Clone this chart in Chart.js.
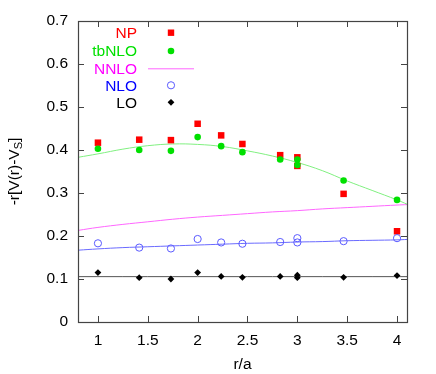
<!DOCTYPE html>
<html>
<head>
<meta charset="utf-8">
<script src="https://cdn.jsdelivr.net/npm/chart.js@4.4.1/dist/chart.umd.min.js"></script>
<style>
  html, body { margin: 0; padding: 0; background: #fff; }
  #wrap { width: 436px; height: 374px; }
</style>
</head>
<body>
<div id="wrap"><canvas id="graphCanvas" width="436" height="374"></canvas></div>
<script>
// r/a of the lattice points (two different points at r/a = 3)
var rVals = [1, 1.414, 1.732, 2, 2.236, 2.449, 2.828, 3, 3, 3.464, 4];
var npVals = [0.417, 0.424, 0.423, 0.461, 0.434, 0.414, 0.388, 0.383, 0.363, 0.298, 0.211];
var tbnloVals = [0.403, 0.400, 0.398, 0.430, 0.409, 0.395, 0.378, 0.378, 0.365, 0.329, 0.284];
var nloVals = [0.183, 0.173, 0.171, 0.193, 0.185, 0.182, 0.186, 0.195, 0.185, 0.188, 0.195];
var loVals = [0.115, 0.103, 0.100, 0.115, 0.106, 0.104, 0.106, 0.109, 0.103, 0.104, 0.108];

// curves
var curveX = [0.8, 1.0, 1.25, 1.5, 1.75, 2.0, 2.25, 2.5, 2.75, 3.0, 3.25, 3.5, 3.75, 4.0, 4.1];
var tbnloCurve = [0.383, 0.391, 0.402, 0.410, 0.414, 0.413, 0.408, 0.398, 0.386, 0.371, 0.352, 0.328, 0.306, 0.284, 0.274];
var nnloCurve = [0.213, 0.220, 0.227, 0.233, 0.239, 0.244, 0.248, 0.252, 0.256, 0.259, 0.263, 0.266, 0.269, 0.272, 0.273];
var nloCurve = [0.167, 0.170, 0.173, 0.175, 0.177, 0.179, 0.181, 0.183, 0.184, 0.186, 0.187, 0.189, 0.190, 0.191, 0.192];
var loCurve = [0.1055, 0.1055, 0.1055, 0.1055, 0.1055, 0.1055, 0.1055, 0.1055, 0.1055, 0.1055, 0.1055, 0.1055, 0.1055, 0.1055, 0.1055];

var xTicks = [1, 1.5, 2, 2.5, 3, 3.5, 4];
var yTicks = [0, 0.1, 0.2, 0.3, 0.4, 0.5, 0.6, 0.7];
var legendNames = ["NP", "tbNLO", "NNLO", "NLO", "LO"];

var FONT = "'Liberation Sans', Arial, sans-serif";
var FS = 15.5;
var frameColor = "#444";

function pts(xs, ys) {
  return xs.map(function(x, i){ return {x: x, y: ys[i]}; });
}

var red = "#ff0000", green = "#00e000", greenLine = "#80f080",
    magenta = "#ff66ff", magentaText = "#ff00ff", blue = "#0000ff", blueMark = "#5a5aff", blueLine = "#6a6aff",
    black = "#000000", grayLine = "#555555";

var datasets = [
  {label: "LOcurve", data: pts(curveX, loCurve), showLine: true, borderColor: grayLine, borderWidth: 1, pointRadius: 0, order: 9},
  {label: "NLOcurve", data: pts(curveX, nloCurve), showLine: true, borderColor: blueLine, borderWidth: 1, pointRadius: 0, tension: 0.4, order: 8},
  {label: "NNLO", data: pts(curveX, nnloCurve), showLine: true, borderColor: magenta, borderWidth: 1, pointRadius: 0, tension: 0.4, order: 7},
  {label: "tbNLOcurve", data: pts(curveX, tbnloCurve), showLine: true, borderColor: greenLine, borderWidth: 1, pointRadius: 0, tension: 0.4, order: 6},
  {label: "NP", data: pts(rVals, npVals), pointStyle: "rect", pointRadius: 4.6, backgroundColor: red, borderColor: red, borderWidth: 0, order: 5},
  {label: "tbNLO", data: pts(rVals, tbnloVals), pointStyle: "circle", pointRadius: 3.3, backgroundColor: green, borderColor: green, borderWidth: 0, order: 4},
  {label: "NLO", data: pts(rVals, nloVals), pointStyle: "circle", pointRadius: 3.6, backgroundColor: "rgba(0,0,0,0)", borderColor: blueMark, borderWidth: 1, order: 3},
  {label: "LO", data: pts(rVals, loVals), pointStyle: "rectRot", pointRadius: 3.4, backgroundColor: black, borderColor: black, borderWidth: 0, order: 2}
];

// gnuplot style frame, inward ticks on all sides, y title, key
var gnuplotDeco = {
  id: "gnuplotDeco",
  afterDatasetsDraw: function(chart) {
    var ctx = chart.ctx, a = chart.chartArea;
    var xs = chart.scales.x, ys = chart.scales.y;
    ctx.save();
    ctx.strokeStyle = frameColor;
    ctx.lineWidth = 1;
    ctx.beginPath();
    xTicks.forEach(function(v){
      var px = Math.round(xs.getPixelForValue(v)) + 0.5;
      ctx.moveTo(px, a.bottom); ctx.lineTo(px, a.bottom - 6);
      ctx.moveTo(px, a.top); ctx.lineTo(px, a.top + 6);
    });
    yTicks.forEach(function(v){
      var py = Math.round(ys.getPixelForValue(v)) + 0.5;
      ctx.moveTo(a.left, py); ctx.lineTo(a.left + 6, py);
      ctx.moveTo(a.right, py); ctx.lineTo(a.right - 6, py);
    });
    ctx.stroke();
    ctx.lineWidth = 1.2;
    ctx.strokeRect(Math.round(a.left) + 0.5, Math.round(a.top) + 0.5, Math.round(a.right - a.left), Math.round(a.bottom - a.top));

    // y title with subscript
    ctx.translate(15, (a.top + a.bottom) / 2);
    ctx.rotate(-Math.PI / 2);
    ctx.fillStyle = "#000";
    ctx.textBaseline = "middle";
    var main = "-r[V(r)-V", sub = "S", end = "]";
    ctx.font = FS + "px " + FONT;
    var w1 = ctx.measureText(main).width, w3 = ctx.measureText(end).width;
    ctx.font = "11px " + FONT;
    var w2 = ctx.measureText(sub).width;
    var x0 = -(w1 + w2 + w3) / 2;
    ctx.font = FS + "px " + FONT;
    ctx.textAlign = "left";
    ctx.fillText(main, x0, 0);
    ctx.font = "11px " + FONT;
    ctx.fillText(sub, x0 + w1, 4);
    ctx.font = FS + "px " + FONT;
    ctx.fillText(end, x0 + w1 + w2, 0);
    ctx.restore();

    // key
    ctx.save();
    var rows = [32.7, 51, 68.3, 85.3, 102.3];
    var colors = [red, green, magentaText, blue, black];
    ctx.font = FS + "px " + FONT;
    ctx.textAlign = "right";
    ctx.textBaseline = "middle";
    legendNames.forEach(function(name, i){
      ctx.fillStyle = colors[i];
      ctx.fillText(name, 137, rows[i] + 1);
    });
    var sx = 171;
    ctx.fillStyle = red; ctx.fillRect(sx - 3.2, rows[0] - 3.2, 6.4, 6.4);
    ctx.fillStyle = green; ctx.beginPath(); ctx.arc(sx, rows[1], 3.3, 0, Math.PI * 2); ctx.fill();
    ctx.strokeStyle = magenta; ctx.lineWidth = 1; ctx.beginPath(); ctx.moveTo(148, rows[2] + 0.5); ctx.lineTo(194, rows[2] + 0.5); ctx.stroke();
    ctx.strokeStyle = blueMark; ctx.beginPath(); ctx.arc(sx, rows[3], 3.6, 0, Math.PI * 2); ctx.stroke();
    ctx.fillStyle = black; ctx.beginPath();
    ctx.moveTo(sx, rows[4] - 3.4); ctx.lineTo(sx + 3.4, rows[4]); ctx.lineTo(sx, rows[4] + 3.4); ctx.lineTo(sx - 3.4, rows[4]); ctx.closePath(); ctx.fill();
    ctx.restore();
  }
};

var chart = new Chart(document.getElementById("graphCanvas"), {
  type: "scatter",
  data: { datasets: datasets },
  options: {
    responsive: false,
    animation: false,
    layout: { padding: { left: 0, right: 29, top: 21, bottom: 0 } },
    plugins: { legend: { display: false }, tooltip: { enabled: false } },
    scales: {
      x: {
        type: "linear", min: 0.8, max: 4.1,
        afterBuildTicks: function(s){ s.ticks = xTicks.map(function(v){ return {value: v}; }); },
        afterFit: function(s){ s.height = 52; },
        grid: { display: false, drawTicks: false },
        border: { display: false },
        ticks: { padding: 9, color: "#000", font: { family: FONT, size: FS },
                 callback: function(v){ return String(v); } },
        title: { display: true, text: "r/a", color: "#000", font: { family: FONT, size: FS }, padding: { top: 0, bottom: 0 } }
      },
      y: {
        type: "linear", min: 0, max: 0.7,
        afterBuildTicks: function(s){ s.ticks = yTicks.map(function(v){ return {value: v}; }); },
        afterFit: function(s){ s.width = 78; },
        grid: { display: false, drawTicks: false },
        border: { display: false },
        ticks: { padding: 10, color: "#000", font: { family: FONT, size: FS },
                 callback: function(v){ return String(+v.toFixed(2)); } }
      }
    }
  },
  plugins: [gnuplotDeco]
});
</script>
</body>
</html>
